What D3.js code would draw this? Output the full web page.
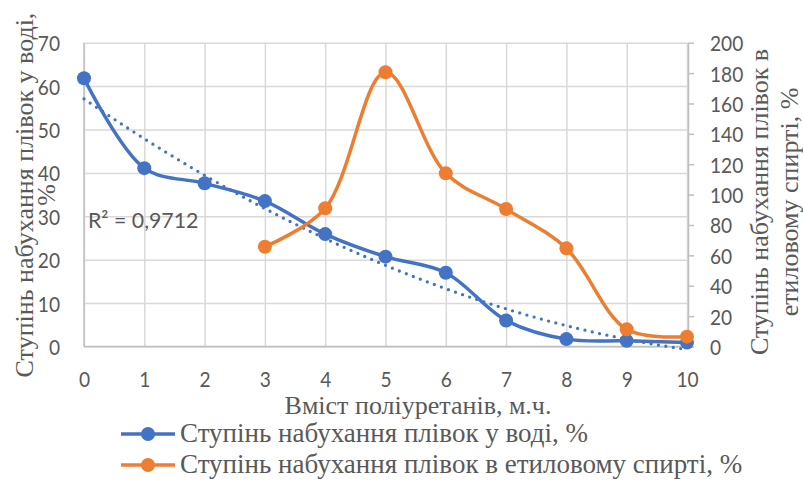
<!DOCTYPE html>
<html>
<head>
<meta charset="utf-8">
<script src="https://cdn.jsdelivr.net/npm/d3@7/dist/d3.min.js"></script>
<style>
    body { margin: 0; background: #fff; }
    .grid line { stroke: #d9d9d9; stroke-width: 1.5px; }
    .grid path { display: none; }
    .lbl { fill: #595959; font-family: Lato, sans-serif; }
    .ttl { fill: #595959; font-family: "Liberation Serif", serif; }
</style>
</head>
<body>
<script>

    // --- data ---
    var content = [0, 1, 2, 3, 4, 5, 6, 7, 8, 9, 10];
    var water = [61.8, 41.1, 37.6, 33.5, 25.9, 20.7, 17.0, 6.0, 1.7, 1.3, 0.9];
    var ethanol = [null, null, null, 65.7, 91, 180.5, 114, 90.5, 64.6, 11.3, 6.5];
    var leftTicks = [0, 10, 20, 30, 40, 50, 60, 70];
    var rightTicks = [0, 20, 40, 60, 80, 100, 120, 140, 160, 180, 200];
    var seriesNames = ["Ступінь набухання плівок у воді, %",
                       "Ступінь набухання плівок в етиловому спирті, %"];
    var r2Label = "R² = 0,9712";

    var width = 803, height = 481;
    var blue = "#4472c4", orange = "#ed7d31";
    var sx = 0.87; // sans labels look a bit narrow in the picture

    var svg = d3.select("body").append("svg")
        .attr("width", width)
        .attr("height", height);

    var x = d3.scaleLinear().domain([0, 10]).range([84, 687]);
    var yL = d3.scaleLinear().domain([0, 70]).range([346.5, 42.7]);
    var yR = d3.scaleLinear().domain([0, 200]).range([346.5, 42.7]);

    // gridlines
    svg.append("g").attr("class", "grid")
        .attr("transform", "translate(" + x(0) + ",0)")
        .call(d3.axisLeft(yL).tickValues(leftTicks).tickSize(-(x(10) - x(0))).tickFormat(""));
    svg.append("g").attr("class", "grid")
        .attr("transform", "translate(0," + yL(0) + ")")
        .call(d3.axisBottom(x).tickValues(content).tickSize(-(yL(0) - yL(70))).tickFormat(""));

    // axis lines
    svg.append("line").attr("x1", x(0)).attr("x2", x(10)).attr("y1", yL(0)).attr("y2", yL(0))
        .attr("stroke", "#bfbfbf").attr("stroke-width", 1.5);
    svg.append("line").attr("x1", x(0)).attr("x2", x(0)).attr("y1", yL(0)).attr("y2", yL(70))
        .attr("stroke", "#bfbfbf").attr("stroke-width", 1.5);

    // right axis with outside ticks
    var gR = svg.append("g")
        .attr("transform", "translate(" + (x(10) + 1) + ",0)")
        .call(d3.axisRight(yR).tickValues(rightTicks).tickSize(6).tickSizeOuter(0));
    gR.select(".domain").attr("stroke", "#bfbfbf").attr("stroke-width", 1.5);
    gR.selectAll(".tick line").attr("stroke", "#bfbfbf").attr("stroke-width", 1.5);
    gR.selectAll(".tick text").attr("class", "lbl").attr("font-size", 22)
        .attr("x", 0).attr("dy", "0.36em")
        .attr("transform", "translate(22,0) scale(" + sx + ",1)")
        .attr("text-anchor", "start");

    // left axis labels
    var gL = svg.append("g")
        .attr("transform", "translate(" + x(0) + ",0)")
        .call(d3.axisLeft(yL).tickValues(leftTicks).tickSize(0));
    gL.select(".domain").remove();
    gL.selectAll(".tick text").attr("class", "lbl").attr("font-size", 22)
        .attr("x", 0).attr("dy", "0.36em")
        .attr("transform", "translate(-24,0) scale(" + sx + ",1)")
        .attr("text-anchor", "end");

    // bottom axis labels
    var gB = svg.append("g")
        .attr("transform", "translate(0," + yL(0) + ")")
        .call(d3.axisBottom(x).tickValues(content).tickSize(0));
    gB.select(".domain").remove();
    gB.selectAll(".tick text").attr("class", "lbl").attr("font-size", 22)
        .attr("y", 0).attr("dy", 0)
        .attr("transform", "translate(0,40) scale(" + sx + ",1)");

    // quadratic trend for the water series (least squares)
    function quadFit(xs, ys) {
        var mx = d3.mean(xs), my = d3.mean(ys);
        var mz = d3.mean(xs, function (v) { return (v - mx) * (v - mx); });
        var sxx = 0, sxy = 0, szz = 0, szy = 0, sxz = 0;
        xs.forEach(function (v, i) {
            var a = v - mx, z = a * a - mz;
            sxx += a * a; sxy += a * ys[i]; szz += z * z; szy += z * ys[i]; sxz += a * z;
        });
        var det = sxx * szz - sxz * sxz;
        var b = (sxy * szz - szy * sxz) / det;
        var c = (szy * sxx - sxy * sxz) / det;
        return function (v) { var a = v - mx; return my + b * a + c * (a * a - mz); };
    }
    var trend = quadFit(content, water);
    var trendPts = d3.range(0, 10.001, 0.1);
    svg.append("path")
        .attr("d", d3.line().x(function (d) { return x(d); }).y(function (d) { return yL(trend(d)); })(trendPts))
        .attr("fill", "none").attr("stroke", blue).attr("stroke-width", 3.3)
        .attr("stroke-linecap", "round").attr("stroke-dasharray", "0 7.5");

    // series
    var curve = d3.curveCatmullRom.alpha(0.5);
    function drawSeries(vals, scale, color) {
        var pts = content.map(function (c, i) { return [c, vals[i]]; })
            .filter(function (d) { return d[1] !== null; });
        svg.append("path")
            .attr("d", d3.line().curve(curve).x(function (d) { return x(d[0]); }).y(function (d) { return scale(d[1]); })(pts))
            .attr("fill", "none").attr("stroke", color).attr("stroke-width", 3.5)
            .attr("stroke-linejoin", "round");
        svg.append("g").selectAll("circle").data(pts).enter().append("circle")
            .attr("cx", function (d) { return x(d[0]); })
            .attr("cy", function (d) { return scale(d[1]); })
            .attr("r", 7).attr("fill", color);
    }
    drawSeries(water, yL, blue);
    drawSeries(ethanol, yR, orange);

    // R² label
    svg.append("text").attr("class", "lbl").attr("font-size", 22)
        .attr("transform", "translate(88,228) scale(0.97,1)")
        .text(r2Label);

    // axis titles
    svg.append("text").attr("class", "ttl").attr("font-size", 26)
        .attr("text-anchor", "middle").attr("x", 418).attr("y", 414)
        .text("Вміст поліуретанів, м.ч.");

    var lt = svg.append("text").attr("class", "ttl").attr("font-size", 26)
        .attr("text-anchor", "middle")
        .attr("transform", "translate(33,195) rotate(-90)");
    lt.append("tspan").attr("x", 0).attr("y", 0).text("Ступінь набухання плівок у воді,");
    lt.append("tspan").attr("x", 0).attr("y", 22).text("%");

    var rt = svg.append("text").attr("class", "ttl").attr("font-size", 26)
        .attr("text-anchor", "middle")
        .attr("transform", "translate(768,202) rotate(-90)");
    rt.append("tspan").attr("x", 0).attr("y", 0).text("Ступінь набухання плівок в");
    rt.append("tspan").attr("x", 0).attr("y", 30).text("етиловому спирті, %");

    // legend
    var legend = svg.append("g");
    [blue, orange].forEach(function (color, i) {
        var yy = 434 + i * 31;
        legend.append("line").attr("x1", 121).attr("x2", 175).attr("y1", yy).attr("y2", yy)
            .attr("stroke", color).attr("stroke-width", 3.5);
        legend.append("circle").attr("cx", 148).attr("cy", yy).attr("r", 7).attr("fill", color);
        legend.append("text").attr("class", "ttl").attr("font-size", 27)
            .attr("x", 180).attr("y", yy + 8).text(seriesNames[i]);
    });

</script>
</body>
</html>
